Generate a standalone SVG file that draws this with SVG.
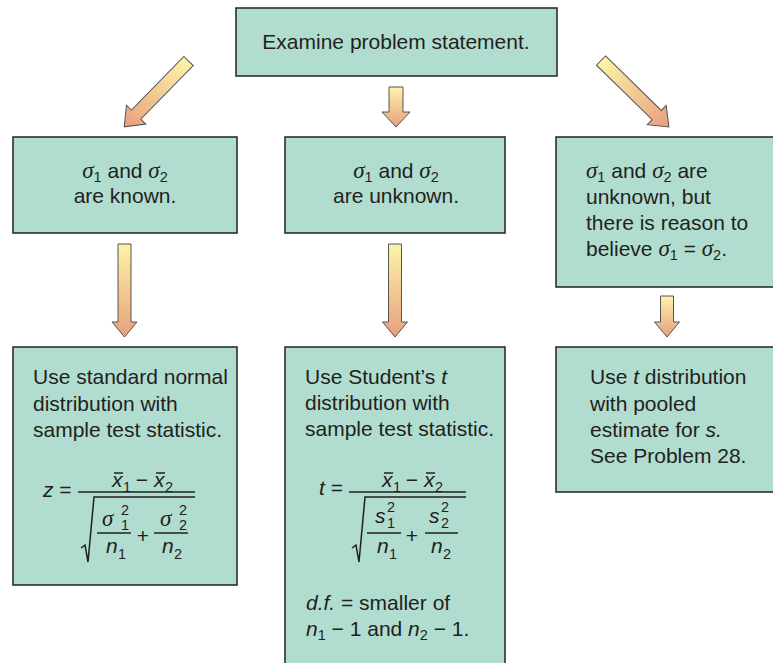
<svg xmlns="http://www.w3.org/2000/svg" width="773" height="663" viewBox="0 0 773 663">
<defs>
<linearGradient id="gh" x1="0" y1="0" x2="1" y2="0"><stop offset="0" stop-color="#fdf4a8"/><stop offset="1" stop-color="#e89f7e"/></linearGradient>
<linearGradient id="gv" x1="0" y1="0" x2="0" y2="1"><stop offset="0" stop-color="#fdf4a8"/><stop offset="1" stop-color="#e89f7e"/></linearGradient>
<style>
.box{fill:#b0ddcf;stroke:#2e2e2e;stroke-width:1.6}
.arr{stroke:#555;stroke-width:1}
text{font-family:"Liberation Sans",Arial,sans-serif;font-size:21px;fill:#231f20}
.it{font-style:italic}
.sg{font-family:"Liberation Serif","Times New Roman",serif;font-style:italic;font-size:23px}
.sm{font-size:14.5px}
.ln{stroke:#231f20;stroke-width:1.5;fill:none}
</style>
</defs>
<g id="connectors">
<polygon class="arr" fill="url(#gh)" transform="translate(188.5,61) rotate(134.3)" points="0,-6.5 75,-6.5 75,-13.5 92,0 75,13.5 75,6.5 0,6.5"/>
<polygon class="arr" fill="url(#gh)" transform="translate(601,60.5) rotate(44.4)" points="0,-6.5 78,-6.5 78,-13.5 95,0 78,13.5 78,6.5 0,6.5"/>
<polygon class="arr" fill="url(#gv)" points="389,87 403,87 403,112 410,112 396,127 382,112 389,112"/>
<polygon class="arr" fill="url(#gv)" points="118,244 131,244 131,322 137,322 124.5,337 112,322 118,322"/>
<polygon class="arr" fill="url(#gv)" points="388.5,244 401.5,244 401.5,322 407.5,322 395,337 382.5,322 388.5,322"/>
<polygon class="arr" fill="url(#gv)" points="660.5,296 673.5,296 673.5,322 679.5,322 667,337 654.5,322 660.5,322"/>
</g>
<g id="top">
<rect class="box" x="236" y="8" width="321" height="68"/>
<text x="396" y="49" text-anchor="middle">Examine problem statement.</text>
</g>
<g id="known">
<rect class="box" x="13" y="137" width="224" height="96"/>
<text x="125" y="178" text-anchor="middle"><tspan class="sg">σ</tspan><tspan class="sm" dy="4">1</tspan><tspan dy="-4"> and </tspan><tspan class="sg">σ</tspan><tspan class="sm" dy="4">2</tspan></text>
<text x="125" y="203" text-anchor="middle">are known.</text>
</g>
<g id="unknown">
<rect class="box" x="285" y="137" width="220" height="96"/>
<text x="396" y="178" text-anchor="middle"><tspan class="sg">σ</tspan><tspan class="sm" dy="4">1</tspan><tspan dy="-4"> and </tspan><tspan class="sg">σ</tspan><tspan class="sm" dy="4">2</tspan></text>
<text x="396" y="203" text-anchor="middle">are unknown.</text>
</g>
<g id="equal">
<rect class="box" x="556" y="137" width="220" height="150"/>
<text x="586" y="178"><tspan class="sg">σ</tspan><tspan class="sm" dy="4">1</tspan><tspan dy="-4"> and </tspan><tspan class="sg">σ</tspan><tspan class="sm" dy="4">2</tspan><tspan dy="-4"> are</tspan></text>
<text x="586" y="204">unknown, but</text>
<text x="586" y="230">there is reason to</text>
<text x="586" y="256">believe <tspan class="sg">σ</tspan><tspan class="sm" dy="4">1</tspan><tspan dy="-4"> = </tspan><tspan class="sg">σ</tspan><tspan class="sm" dy="4">2</tspan><tspan dy="-4">.</tspan></text>
</g>
<g id="normal">
<rect class="box" x="13" y="347" width="224" height="238"/>
<text x="33" y="384">Use standard normal</text>
<text x="33" y="411">distribution with</text>
<text x="33" y="437">sample test statistic.</text>
<text x="43" y="497"><tspan class="it">z</tspan> =</text>
<text x="112" y="487" class="it">x</text><text x="123" y="492" class="sm">1</text>
<text x="142" y="487" text-anchor="middle">−</text>
<text x="154" y="487" class="it">x</text><text x="165" y="492" class="sm">2</text>
<line class="ln" x1="114" y1="473" x2="123" y2="473"/>
<line class="ln" x1="156" y1="473" x2="165" y2="473"/>
<line class="ln" x1="78" y1="492" x2="195" y2="492"/>
<polyline class="ln" points="81,548 85,545 88,562 94,497 195,497"/>
<text x="102" y="526" class="sg">σ</text><text x="121" y="515" class="sm">2</text><text x="121" y="530" class="sm">1</text>
<line class="ln" x1="97" y1="533" x2="131" y2="533"/>
<text x="106" y="553" class="it">n</text><text x="118" y="559" class="sm">1</text>
<text x="143" y="543" text-anchor="middle">+</text>
<text x="160" y="526" class="sg">σ</text><text x="179" y="515" class="sm">2</text><text x="179" y="530" class="sm">2</text>
<line class="ln" x1="154" y1="533" x2="188" y2="533"/>
<text x="162" y="553" class="it">n</text><text x="174" y="559" class="sm">2</text>
</g>
<g id="student">
<rect class="box" x="285" y="347" width="220" height="320"/>
<text x="305" y="384">Use Student’s <tspan class="it">t</tspan></text>
<text x="305" y="410">distribution with</text>
<text x="305" y="436">sample test statistic.</text>
<text x="319" y="495"><tspan class="it">t</tspan> =</text>
<text x="382" y="487" class="it">x</text><text x="393" y="492" class="sm">1</text>
<text x="412" y="487" text-anchor="middle">−</text>
<text x="424" y="487" class="it">x</text><text x="435" y="492" class="sm">2</text>
<line class="ln" x1="384" y1="473" x2="393" y2="473"/>
<line class="ln" x1="426" y1="473" x2="435" y2="473"/>
<line class="ln" x1="349" y1="492" x2="466" y2="492"/>
<polyline class="ln" points="352,548 356,545 359,562 365,497 466,497"/>
<text x="375" y="523" class="it">s</text><text x="387" y="512" class="sm">2</text><text x="387" y="528" class="sm">1</text>
<line class="ln" x1="367" y1="533" x2="401" y2="533"/>
<text x="377" y="553" class="it">n</text><text x="389" y="559" class="sm">1</text>
<text x="412" y="543" text-anchor="middle">+</text>
<text x="429" y="523" class="it">s</text><text x="441" y="512" class="sm">2</text><text x="441" y="528" class="sm">2</text>
<line class="ln" x1="425" y1="533" x2="458" y2="533"/>
<text x="431" y="553" class="it">n</text><text x="443" y="559" class="sm">2</text>
<text x="306" y="610"><tspan class="it">d.f.</tspan> = smaller of</text>
<text x="306" y="636"><tspan class="it">n</tspan><tspan class="sm" dy="4">1</tspan><tspan dy="-4"> − 1 and </tspan><tspan class="it">n</tspan><tspan class="sm" dy="4">2</tspan><tspan dy="-4"> − 1.</tspan></text>
</g>
<g id="pooled">
<rect class="box" x="556" y="347" width="220" height="145"/>
<text x="590" y="384">Use <tspan class="it">t</tspan> distribution</text>
<text x="590" y="411">with pooled</text>
<text x="590" y="437">estimate for <tspan class="it">s.</tspan></text>
<text x="590" y="463">See Problem 28.</text>
</g>
</svg>
